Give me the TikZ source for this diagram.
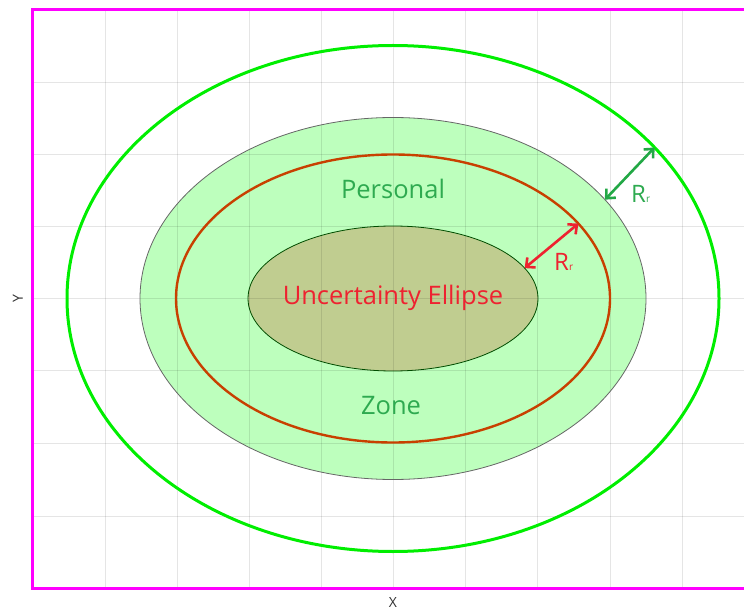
\documentclass[tikz,border=0pt]{standalone}
\usepackage{fontspec}
\setmainfont{Open Sans}
\usetikzlibrary{shapes.geometric,arrows.meta}
\definecolor{magline}{HTML}{FF00FF}
\definecolor{gridc}{HTML}{000000}
\definecolor{pzfill}{HTML}{BDFFBD}
\definecolor{uefill}{HTML}{C0CD90}
\definecolor{brightg}{HTML}{00EE00}
\definecolor{rust}{HTML}{C84000}
\definecolor{labgreen}{HTML}{2EAA50}
\definecolor{arrgreen}{HTML}{22A845}
\definecolor{labred}{HTML}{EE2230}
\definecolor{axisc}{HTML}{333333}
\tikzset{
  ell/.style={ellipse, inner sep=0pt, outer sep=0pt},
  rarrow/.style={line width=2.6pt, {Straight Barb[length=7pt,width=13pt]}-{Straight Barb[length=7pt,width=13pt]}},
  lab/.style={font=\fontsize{25.5}{30}\selectfont},
  rlab/.style={font=\fontsize{24}{28}\selectfont, inner sep=0pt},
  axlab/.style={font=\fontsize{14}{16}\selectfont, text=axisc},
}
\newcommand{\subr}{\raisebox{0pt}{\fontsize{10}{12}\selectfont r}}
\begin{document}
\begin{tikzpicture}[x=1pt,y=-1pt]
\useasboundingbox (0,0) rectangle (744,612);
\clip (0,0) rectangle (744,612);
% filled ellipses
\node[ell, fill=pzfill, minimum width=506pt, minimum height=362pt] (pzf) at (393,298.5) {};
\node[ell, fill=uefill, minimum width=290pt, minimum height=145pt] (uef) at (393,298.5) {};
% grid
\foreach \gx in {33,105,177,249,321,393,465,537,610,682}
  \draw[gridc, opacity=0.1, line width=0.8pt] (\gx,10) -- (\gx,588);
\foreach \gy in {82,154,226,298,370,443,516}
  \draw[gridc, opacity=0.1, line width=0.8pt] (32,\gy) -- (760,\gy);
% outlines
\node[ell, draw=black!60, line width=0.8pt, minimum width=506pt, minimum height=362pt] (pz) at (393,298.5) {};
\node[ell, draw=black!50!green!60!black, line width=0.8pt, minimum width=290pt, minimum height=145pt] (ue) at (393,298.5) {};
\node[ell, draw=rust, line width=2.4pt, minimum width=434pt, minimum height=288pt] (re) at (393,298.5) {};
\node[ell, draw=brightg, line width=3pt, minimum width=652pt, minimum height=506pt] (ge) at (393,298.5) {};
% frame
\draw[magline, line width=3pt] (32,10) rectangle (770,588);
% arrows
\draw[rarrow, arrgreen] (pz.25.9) -- (ge.30.1);
\draw[rarrow, labred] (ue.13.1) -- (re.22.9);
% labels
\node[lab, text=labgreen] (tpers) at (393,189) {Personal};
\node[lab, text=labgreen] (tzone) at (391,406) {Zone};
\node[lab, text=labred] (tue) at (393,298) {Uncertainty Ellipse};
\node[rlab, text=labgreen, anchor=base west] (rg) at (631,203) {R\subr};
\node[rlab, text=labred, anchor=base west] (rr) at (554,271) {R\subr};
\node[axlab] (xl) at (393,602) {X};
\node[axlab, rotate=90] (yl) at (18,299) {Y};
\end{tikzpicture}
\end{document}
